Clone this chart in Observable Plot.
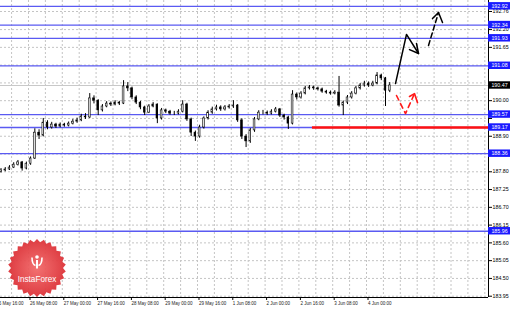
<!DOCTYPE html>
<html><head><meta charset="utf-8">
<script src="https://cdn.jsdelivr.net/npm/d3@7"></script>
<script src="https://cdn.jsdelivr.net/npm/@observablehq/plot@0.6"></script>
<style>body{margin:0;background:#fff;overflow:hidden}</style>
</head><body><div id="chart"></div>
<script>
// Hourly candles, sampled every 2 hours (hour index counted from 25 May 16:00)
const open = [187.80,187.84,187.87,187.93,188.02,188.09,187.90,188.05,188.21,189.01,188.92,189.32,189.17,189.26,189.20,189.26,189.23,189.29,189.35,189.39,189.51,189.48,190.07,190.00,189.70,189.82,189.91,189.88,189.94,189.91,190.44,190.38,190.10,189.94,189.79,189.63,189.82,189.88,189.45,189.70,189.66,189.60,189.60,189.66,189.88,189.42,189.01,188.89,189.17,189.45,189.63,189.73,189.79,189.73,189.79,189.82,189.85,189.39,188.89,188.74,189.08,189.42,189.63,189.63,189.60,189.66,189.73,189.54,189.48,189.29,190.19,190.10,190.22,190.38,190.41,190.38,190.35,190.28,190.25,190.22,190.25,189.85,189.94,190.10,190.22,190.38,190.47,190.53,190.47,190.53,190.78,190.69,190.31];
const high = [187.90,187.93,187.99,188.08,188.15,188.12,188.10,188.26,189.13,189.10,189.45,189.38,189.33,189.30,189.31,189.30,189.34,189.42,189.46,189.58,189.60,190.22,190.15,190.03,189.88,189.97,189.96,190.00,189.98,190.62,190.56,190.42,190.15,189.98,189.83,189.88,189.94,189.90,189.76,189.74,189.70,189.67,189.72,190.00,189.92,189.46,189.06,189.24,189.50,189.69,189.80,189.86,189.84,189.85,189.88,190.00,189.88,189.44,188.95,189.14,189.48,189.69,189.70,189.68,189.72,189.79,189.76,189.58,189.52,190.31,190.24,190.28,190.44,190.47,190.45,190.42,190.39,190.32,190.30,190.31,190.75,189.99,190.16,190.28,190.44,190.53,190.60,190.58,190.60,190.87,190.82,190.72,190.56];
const low = [187.76,187.80,187.84,187.90,187.98,187.82,187.86,188.00,188.18,188.80,188.88,189.10,189.12,189.14,189.16,189.18,189.19,189.25,189.30,189.35,189.42,189.45,189.90,189.54,189.65,189.78,189.82,189.84,189.85,189.88,190.28,190.03,189.88,189.72,189.54,189.60,189.78,189.29,189.40,189.60,189.55,189.54,189.56,189.62,189.36,188.89,188.74,188.84,189.12,189.40,189.58,189.68,189.67,189.68,189.74,189.76,189.33,188.80,188.55,188.68,189.02,189.38,189.56,189.54,189.56,189.62,189.48,189.40,189.11,189.25,190.02,190.05,190.18,190.33,190.32,190.30,190.23,190.20,190.17,190.18,189.80,189.54,189.88,190.05,190.18,190.33,190.42,190.41,190.43,190.49,190.62,189.82,190.25];
const close = [187.84,187.87,187.93,188.02,188.09,187.90,188.05,188.21,189.01,188.92,189.32,189.17,189.26,189.20,189.26,189.23,189.29,189.35,189.39,189.51,189.48,190.07,190.00,189.70,189.82,189.91,189.88,189.94,189.91,190.44,190.38,190.10,189.94,189.79,189.63,189.82,189.88,189.45,189.70,189.66,189.60,189.60,189.66,189.88,189.42,189.01,188.89,189.17,189.45,189.63,189.73,189.79,189.73,189.79,189.82,189.85,189.39,188.89,188.74,189.08,189.42,189.63,189.63,189.60,189.66,189.73,189.54,189.48,189.29,190.19,190.10,190.22,190.38,190.41,190.38,190.35,190.28,190.25,190.22,190.25,189.85,189.94,190.10,190.22,190.38,190.47,190.53,190.47,190.53,190.78,190.69,190.31,190.47];

const timeTickHours = [0,16,32,48,64,80,96,112,128,144,160,176];
const timeTickLabels = ["25 May 16:00","26 May 08:00","27 May 00:00","27 May 16:00","28 May 08:00","29 May 00:00","29 May 16:00","1 Jun 08:00","2 Jun 00:00","2 Jun 16:00","3 Jun 08:00","4 Jun 00:00"];
// price grid values; labels hidden behind level boxes in the reference are left empty
const priceTicks = [183.95,184.50,185.05,185.60,186.15,186.70,187.25,187.80,188.35,188.90,189.45,190.00,190.55,191.10,191.65,192.20,192.76];
const priceTickLabels = ["183.95","184.50","185.05","185.60","186.15","186.70","187.25","187.80","","188.90","","190.00","","","191.65","192.20","192.76"];
const levels = [192.92,192.34,191.93,191.08,189.57,189.17,188.36,185.96];
const levelLabels = ["192.92","192.34","191.93","191.08","189.57","189.17","188.36","185.96"];
const lastPrice = 190.47;
const redLevel = 189.17, redFromHour = 150.4;

// forecast arrows: [hour, price]
const upSolid = [[189.72,190.53],[194.93,192.05],[200.62,191.46]];
const upSolidHead = [[199.67,191.77],[200.62,191.46],[196.36,191.58]];
const upDashed = [[205.35,191.71],[210.09,192.73]];
const upDashedHead = [[207.25,192.54],[210.09,192.73],[211.98,192.42]];
const redDashed = [[190.20,190.16],[194.46,189.60],[198.72,190.22]];
const redHead = [[196.36,190.13],[198.72,190.22],[200.14,189.94]];

const bars = close.map((c, i) => ({h: 3 + 2 * i, o: open[i], hi: high[i], lo: low[i], c}));
const gridHours = d3.range(0, 240, 8);
const xMin = 2.75, xMax = 233.75, xBox = 244.2;
const pts = a => a.map(([h, p]) => ({h, p}));

const plot = Plot.plot({
  width: 510, height: 309,
  marginLeft: 0, marginRight: 22, marginTop: 0, marginBottom: 12,
  x: {domain: [xMin, xMax], axis: null, label: null},
  y: {domain: [183.91, 193.10], axis: null, label: null},
  style: {background: "#fff", fontFamily: "'Liberation Sans', Arial, sans-serif", overflow: "visible"},
  marks: [
    Plot.ruleY(priceTicks, {stroke: "#c4c4c4", strokeDasharray: "2,2"}),
    Plot.ruleX(gridHours.filter(h => h > xMin && h < xMax), {stroke: "#c4c4c4", strokeDasharray: "2,2"}),
    Plot.ruleY(levels, {stroke: "#5a5af2", strokeWidth: 1.3}),
    Plot.ruleY([lastPrice], {stroke: "#c8c8c8"}),
    Plot.ruleY([redLevel], {x1: redFromHour, x2: xMax, stroke: "#ff1010", strokeWidth: 2.4}),
    Plot.ruleX(bars, {x: "h", y1: "lo", y2: "hi", stroke: "#000", strokeWidth: 1}),
    Plot.rect(bars, {x1: d => d.h - 0.4, x2: d => d.h + 0.4, y1: "o", y2: "c",
      fill: d => d.c >= d.o ? "#fff" : "#000", stroke: "#000", strokeWidth: 0.6}),
    Plot.line(pts(upSolid), {x: "h", y: "p", stroke: "#000", strokeWidth: 1.5}),
    Plot.line(pts(upSolidHead), {x: "h", y: "p", stroke: "#000", strokeWidth: 1.5}),
    Plot.line(pts(upDashed), {x: "h", y: "p", stroke: "#000", strokeWidth: 1.5, strokeDasharray: "5,3"}),
    Plot.line(pts(upDashedHead), {x: "h", y: "p", stroke: "#000", strokeWidth: 1.5}),
    Plot.line(pts(redDashed), {x: "h", y: "p", stroke: "#ff1a1a", strokeWidth: 1.6, strokeDasharray: "5,4"}),
    Plot.line(pts(redHead), {x: "h", y: "p", stroke: "#ff1a1a", strokeWidth: 1.6}),
    Plot.ruleX([xMax], {stroke: "#000"}),
    Plot.ruleY([183.91], {stroke: "#000"}),
    Plot.axisY({anchor: "right", ticks: priceTicks, tickFormat: d => priceTickLabels[priceTicks.indexOf(d)],
      tickSize: 3, tickPadding: 1, fontSize: 5.3, fill: "#000", label: null}),
    Plot.axisX({ticks: timeTickHours, tickFormat: d => timeTickLabels[timeTickHours.indexOf(d)],
      tickSize: 3, tickPadding: 1, fontSize: 4.5, textAnchor: "start", dx: 1.5, fill: "#222", label: null}),
    Plot.rect(levels, {x1: xMax, x2: xBox, y1: d => d - 0.115, y2: d => d + 0.115, fill: "#1a1aff"}),
    Plot.text(levels, {x: xMax, y: d => d, dx: 11, text: (d, i) => levelLabels[i], fill: "#fff", fontSize: 5.3}),
    Plot.rect([lastPrice], {x1: xMax, x2: xBox, y1: d => d - 0.115, y2: d => d + 0.115, fill: "#000"}),
    Plot.text([lastPrice], {x: xMax, y: d => d, dx: 11, text: d => d.toFixed(2), fill: "#fff", fontSize: 5.3})
  ]
});
document.getElementById("chart").appendChild(plot);

// InstaForex logo (decoration)
const svg = d3.select(plot);
const defs = svg.append("defs");
const grad = defs.append("radialGradient").attr("id", "lg");
grad.append("stop").attr("offset", "0%").attr("stop-color", "#f26a6a");
grad.append("stop").attr("offset", "100%").attr("stop-color", "#dc3238");
const cx = 37, cy = 268, n = 26;
const starPts = d3.range(n * 2).map(k => {
  const r = k % 2 ? 26 : 29, a = Math.PI * k / n;
  return [cx + r * Math.sin(a), cy - r * Math.cos(a)];
});
const g = svg.append("g");
g.append("polygon").attr("points", starPts.map(p => p.join(",")).join(" ")).attr("fill", "url(#lg)").attr("opacity", 0.95);
g.append("circle").attr("cx", cx).attr("cy", 257).attr("r", 1.8).attr("fill", "#fff");
g.append("path").attr("d", `M${cx},260 L${cx},268.5`).attr("stroke", "#fff").attr("stroke-width", 2);
g.append("path").attr("d", `M${cx-5},257.5 Q${cx-5},264.5 ${cx-1.5},265.5 M${cx+5},257.5 Q${cx+5},264.5 ${cx+1.5},265.5`).attr("stroke", "#fff").attr("stroke-width", 1.6).attr("fill", "none");
g.append("text").attr("x", cx).attr("y", 281.5).attr("text-anchor", "middle").attr("fill", "#fff")
  .attr("font-size", 8.2).attr("font-family", "'Liberation Sans', Arial, sans-serif").text("InstaForex");
</script>
</body></html>
